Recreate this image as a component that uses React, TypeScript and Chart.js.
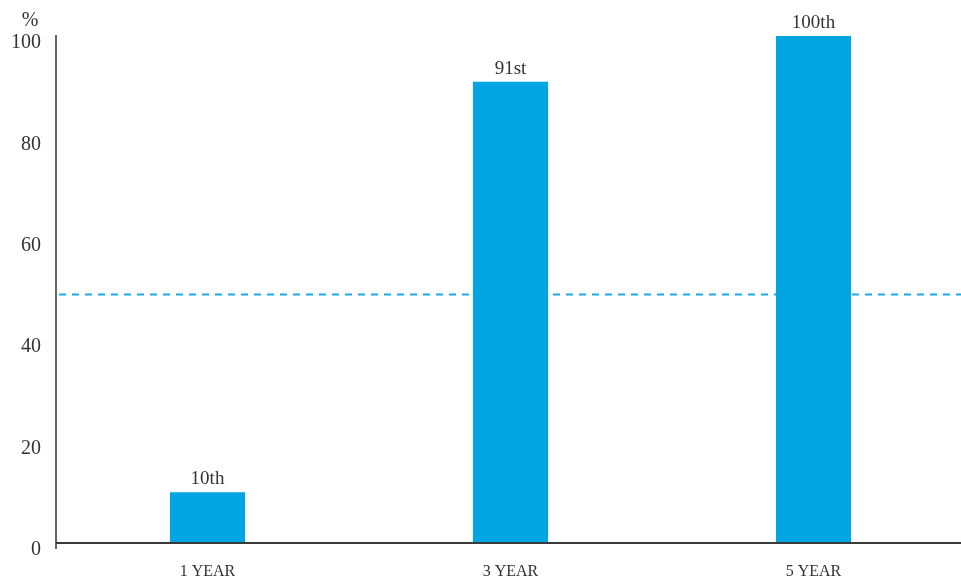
import React, { useEffect, useRef } from "react";
import { Chart, registerables } from "chart.js";

Chart.register(...registerables);

// Percentile ranking by period
const periods = ["1 YEAR", "3 YEAR", "5 YEAR"];
const percentiles = [10, 91, 100];
const medianLine = 49;
const yTicks = [0, 20, 40, 60, 80, 100];

const BAR_BLUE = "#00a5e2";
const SERIF = '"Liberation Serif", "Times New Roman", serif';
const TEXT = "#333333";

function ordinal(n: number): string {
  const mod100 = n % 100;
  if (mod100 >= 11 && mod100 <= 13) return `${n}th`;
  switch (n % 10) {
    case 1:
      return `${n}st`;
    case 2:
      return `${n}nd`;
    case 3:
      return `${n}rd`;
    default:
      return `${n}th`;
  }
}

const medianPlugin = {
  id: "medianLine",
  beforeDatasetsDraw(chart: any) {
    const { ctx, chartArea, scales } = chart;
    const y = scales.y.getPixelForValue(medianLine);
    ctx.save();
    ctx.strokeStyle = "#1fa9e4";
    ctx.lineWidth = 2;
    ctx.setLineDash([7, 6]);
    ctx.beginPath();
    ctx.moveTo(chartArea.left + 3, y);
    ctx.lineTo(chartArea.right, y);
    ctx.stroke();
    ctx.restore();
  },
};

const decorPlugin = {
  id: "decor",
  afterDraw(chart: any) {
    const { ctx, chartArea, scales } = chart;
    const meta = chart.getDatasetMeta(0);
    ctx.save();
    // value labels above bars
    ctx.fillStyle = TEXT;
    ctx.font = `19px ${SERIF}`;
    ctx.textAlign = "center";
    ctx.textBaseline = "alphabetic";
    meta.data.forEach((bar: any, i: number) => {
      ctx.fillText(ordinal(percentiles[i]), bar.x, bar.y - 8);
    });
    // unit label over the value axis
    ctx.font = `20px ${SERIF}`;
    ctx.fillText("%", chartArea.left - 26, chartArea.top - 10);
    // y axis stub below the baseline
    ctx.strokeStyle = "#666666";
    ctx.lineWidth = 2;
    ctx.beginPath();
    ctx.moveTo(chartArea.left, chartArea.bottom);
    ctx.lineTo(chartArea.left, chartArea.bottom + 6);
    ctx.stroke();
    // x axis line
    ctx.strokeStyle = "#3a3a3a";
    ctx.beginPath();
    ctx.moveTo(chartArea.left, scales.y.getPixelForValue(0));
    ctx.lineTo(chartArea.right, scales.y.getPixelForValue(0));
    ctx.stroke();
    ctx.restore();
  },
};

export default function App() {
  const canvasRef = useRef<HTMLCanvasElement | null>(null);

  useEffect(() => {
    document.body.style.margin = "0";
    document.body.style.overflow = "hidden";
    document.documentElement.style.overflow = "hidden";
    if (!canvasRef.current) return;
    const chart = new Chart(canvasRef.current, {
      type: "bar",
      data: {
        labels: periods,
        datasets: [
          {
            data: percentiles,
            backgroundColor: BAR_BLUE,
            borderWidth: 0,
            barPercentage: 0.248,
            categoryPercentage: 1,
          },
        ],
      },
      plugins: [medianPlugin, decorPlugin],
      options: {
        animation: false,
        responsive: false,
        maintainAspectRatio: false,
        layout: { padding: { top: 36, left: 0, right: 0, bottom: 0 } },
        plugins: {
          legend: { display: false },
          tooltip: { enabled: false },
        },
        scales: {
          x: {
            grid: { display: false, drawTicks: false },
            border: { display: false },
            ticks: {
              color: TEXT,
              font: { family: SERIF, size: 16 },
              padding: 19,
            },
            afterFit(scale: any) {
              scale.height = 41;
            },
          },
          y: {
            min: 0,
            max: 100,
            afterBuildTicks(scale: any) {
              scale.ticks = yTicks.map((v) => ({ value: v }));
            },
            grid: { display: false, drawTicks: false },
            border: { display: true, color: "#666666", width: 2 },
            ticks: {
              color: TEXT,
              font: { family: SERIF, size: 20 },
              padding: 15,
              labelOffset: 7,
            },
            afterFit(scale: any) {
              scale.width = 56;
            },
          },
        },
      },
    });
    return () => chart.destroy();
  }, []);

  return (
    <div style={{ position: "absolute", left: 0, top: 0, width: 965, height: 584 }}>
      <canvas ref={canvasRef} width={965} height={584} />
    </div>
  );
}
